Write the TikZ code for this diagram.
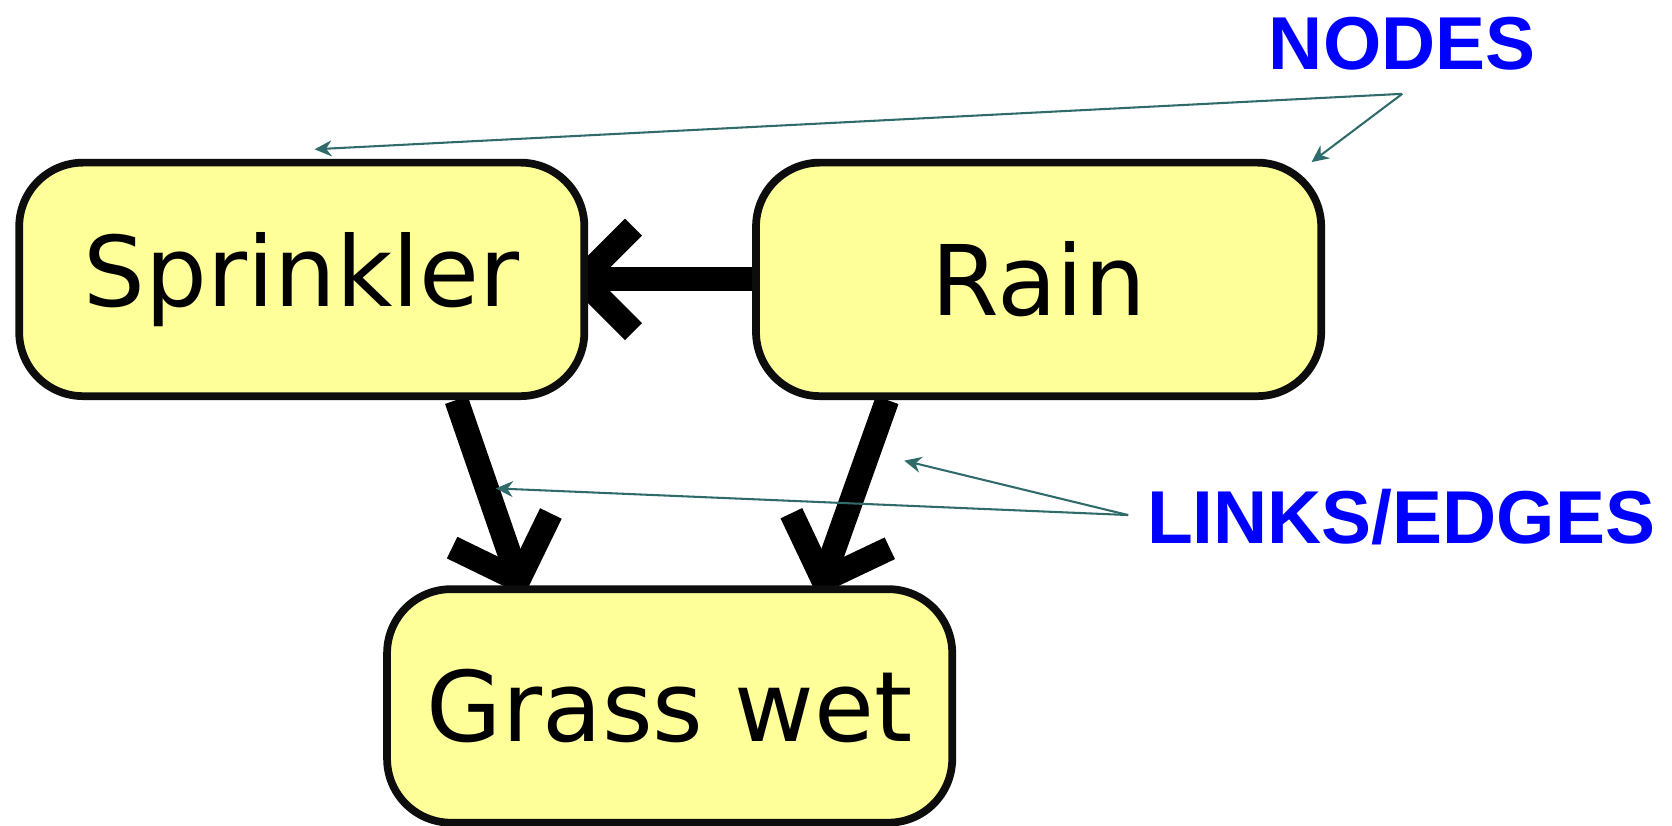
\documentclass[tikz,border=0pt]{standalone}
\usepackage{fontspec}
\usepackage{tikz}
\usetikzlibrary{positioning,arrows.meta,calc,backgrounds}
\newfontfamily\boxfont{DejaVu Sans}
\newfontfamily\notefont{Liberation Sans}
\definecolor{boxyellow}{RGB}{255,255,153}
\definecolor{noteteal}{RGB}{47,107,107}
\tikzset{
    varnode/.style={rectangle,rounded corners=1.2cm,draw=black!95,fill=boxyellow,line width=0.145cm,
        minimum width=10.6cm,minimum height=4.38cm,inner sep=0pt,font=\boxfont\fontsize{52}{62}\selectfont},
    causal/.style={line width=0.45cm,-{Straight Barb[length=0.98cm,width=1.96cm]}},
    pointer/.style={draw=noteteal,line width=1.1pt,-{Stealth[length=0.32cm,width=0.3cm]}},
    caption/.style={text=blue,font=\notefont\bfseries\fontsize{40}{48}\selectfont,inner sep=0pt},
}
\begin{document}
\begin{tikzpicture}
    \useasboundingbox (0,0) rectangle (31.36,-15.49);

    \node[varnode] (sprinkler) at (5.66,-5.24) {Sprinkler};
    \node[varnode] (rain) at (19.48,-5.24) {Rain};
    \node[varnode] (grass) at (12.56,-13.24) {Grass wet};

    % arrows go under the boxes
    \begin{scope}[on background layer]
        \fill[white] (0,0) rectangle (31.36,-15.49);
        \draw[causal] (rain.west) -- ($(sprinkler.east)+(-0.45,0)$);
        \draw[causal] ($(sprinkler.south)+(2.9,0)$) -- ($(grass.north)+(-2.73,-0.2)$);
        \draw[causal] ($(rain.south)+(-2.84,0)$) -- ($(grass.north)+(2.77,-0.2)$);
    \end{scope}

    \node[caption] (nodes) at (26.3,-0.82) {NODES};
    \node[caption] (links) at (26.28,-9.7) {LINKS/EDGES};
    \coordinate (nodesfork) at (26.3,-1.76);
    \coordinate (linksfork) at (21.16,-9.66);
    \coordinate (sprinklertop) at (5.9,-2.8);
    \coordinate (raintop) at (24.6,-3.04);
    \coordinate (leftedge) at (9.3,-9.16);
    \coordinate (rightedge) at (16.96,-8.64);

    \draw[pointer] (nodesfork) -- (sprinklertop);
    \draw[pointer] (nodesfork) -- (raintop);
    \draw[pointer] (linksfork) -- (leftedge);
    \draw[pointer] (linksfork) -- (rightedge);
\end{tikzpicture}
\end{document}
